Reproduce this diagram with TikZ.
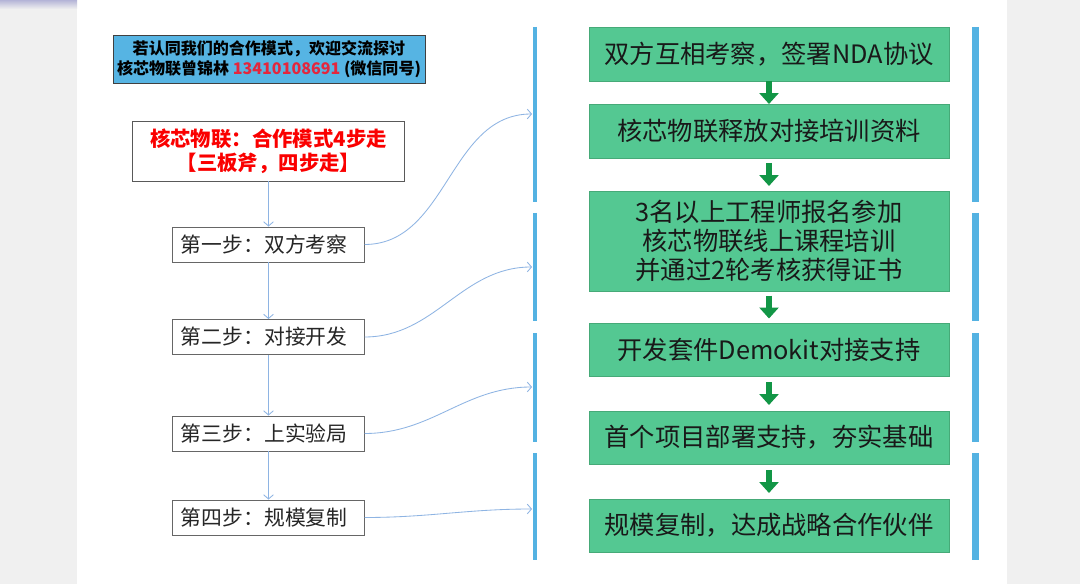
\documentclass[tikz,border=0pt]{standalone}
\usepackage{fontspec}
\setmainfont{Noto Sans CJK SC}
\usetikzlibrary{arrows.meta, calc}

\definecolor{pagegray}{RGB}{240,240,240}
\definecolor{infoblue}{RGB}{86,180,227}
\definecolor{barblue}{RGB}{84,178,226}
\definecolor{linkblue}{RGB}{142,180,227}
\definecolor{boxgreen}{RGB}{84,200,146}
\definecolor{boxedge}{RGB}{70,170,120}
\definecolor{arrowgreen}{RGB}{18,150,70}
\definecolor{phonered}{RGB}{228,38,60}
\definecolor{titlered}{RGB}{250,0,0}

\begin{document}
\begin{tikzpicture}[
  x=0.025cm, y=-0.025cm,
  every node/.style={inner sep=0pt},
  infobox/.style={draw=black!75, fill=infoblue, line width=0.6pt, minimum width=7.8cm, minimum height=1.2cm, align=center, font=\fontsize{11.4}{14.2}\selectfont\bfseries},
  titlebox/.style={draw=black!65, fill=white, line width=0.7pt, minimum width=6.775cm, minimum height=1.475cm, align=center, text=titlered, font=\fontsize{14.5}{17}\selectfont\bfseries},
  stepbox/.style={draw=black!60, fill=white, line width=0.7pt, minimum height=0.875cm, text width=4.375cm, inner xsep=0.2cm, align=left, text=black!85, font=\fontsize{14.8}{17}\selectfont},
  greenbox/.style={draw=boxedge, fill=boxgreen, line width=0.5pt, minimum width=9cm, minimum height=1.35cm, align=center, text=black!90, font=\fontsize{18}{20.6}\selectfont},
  bar/.style={draw=barblue, line width=3.4pt},
  link/.style={draw=linkblue, line width=0.6pt, -{Straight Barb[length=3pt, width=7pt]}},
  bigdown/.style={draw=arrowgreen, line width=4.3pt, -{Triangle[width=13.5pt, length=7.8pt]}}
]

% Page and panel
\fill[pagegray] (0,0) rectangle (1080,584);
\fill[white] (77,0) rectangle (1007,584);
\shade[top color=blue!30!gray!45, bottom color=pagegray] (0,0) rectangle (77,9);

% Contact box
\node[infobox] (info) at (269,59) {若认同我们的合作模式，欢迎交流探讨\\核芯物联曾锦林 \textcolor{phonered}{13410108691} (微信同号)};

% Title and steps
\node[titlebox] (title) at (268.5,151.5) {核芯物联：合作模式4步走\\【三板斧，四步走】};
\node[stepbox] (s1) at (268.5,244.5) {第一步：双方考察};
\node[stepbox] (s2) at (268.5,337) {第二步：对接开发};
\node[stepbox] (s3) at (268.5,433.5) {第三步：上实验局};
\node[stepbox] (s4) at (268.5,517.5) {第四步：规模复制};

\draw[link] (title.south) -- (s1.north);
\draw[link] (s1.south) -- (s2.north);
\draw[link] (s2.south) -- (s3.north);
\draw[link] (s3.south) -- (s4.north);

% Bracket bars
\foreach \ya/\yb in {27/202, 213/321, 333/442, 453/560} {
  \draw[bar] (535,\ya) -- (535,\yb);
  \draw[bar, line width=5.4pt] (975.5,\ya) -- (975.5,\yb);
}
\coordinate (t1) at (532,114);
\coordinate (t2) at (532,267);
\coordinate (t3) at (532,387);
\coordinate (t4) at (532,509);

\draw[link] (s1.east) to[out=0, in=180] (t1);
\draw[link] (s2.east) to[out=0, in=180] (t2);
\draw[link] (s3.east) to[out=0, in=180] (t3);
\draw[link] (s4.east) to[out=0, in=180] (t4);

% Green flow
\node[greenbox] (g1) at (769,54) {双方互相考察，签署NDA协议};
\node[greenbox] (g2) at (769,131) {核芯物联释放对接培训资料};
\node[greenbox, minimum height=2.5cm] (g3) at (769,241) {3名以上工程师报名参加\\核芯物联线上课程培训\\并通过2轮考核获得证书};
\node[greenbox, minimum height=1.325cm] (g4) at (769,349.5) {开发套件Demokit对接支持};
\node[greenbox, minimum height=1.325cm] (g5) at (769,437.5) {首个项目部署支持，夯实基础};
\node[greenbox, minimum height=1.325cm] (g6) at (769,525.5) {规模复制，达成战略合作伙伴};

\foreach \a/\b in {g1/g2, g2/g3, g3/g4, g4/g5, g5/g6}
  \draw[bigdown] ($(\a.south)!0.5!(\b.north)+(0,-11.5)$) -- ++(0,23);

\end{tikzpicture}
\end{document}
